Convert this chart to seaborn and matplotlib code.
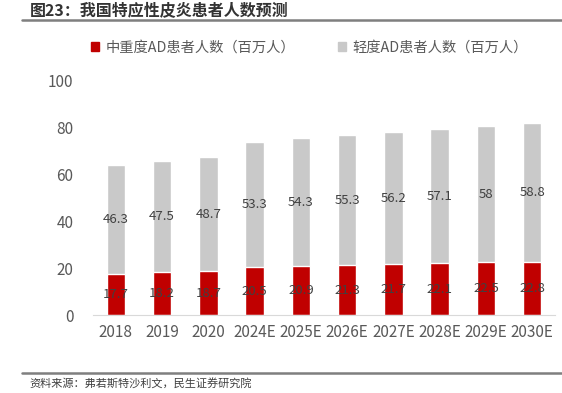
import pandas as pd
import numpy as np
import matplotlib
matplotlib.use("Agg")
import matplotlib.pyplot as plt
import seaborn as sns
from matplotlib.lines import Line2D
from matplotlib.patches import Patch

years = ["2018", "2019", "2020", "2024E", "2025E", "2026E", "2027E", "2028E", "2029E", "2030E"]
severe = [17.7, 18.2, 18.7, 20.5, 20.9, 21.3, 21.7, 22.1, 22.5, 22.8]
mild = [46.3, 47.5, 48.7, 53.3, 54.3, 55.3, 56.2, 57.1, 58, 58.8]
severe_name = "中重度AD患者人数（百万人）"
mild_name = "轻度AD患者人数（百万人）"

sns.set_style("white")
plt.rcParams['font.family'] = ['Noto Sans CJK SC', 'DejaVu Sans']

df = pd.DataFrame({"year": years, "severe": severe, "mild": mild})
df["total"] = df["severe"] + df["mild"]

fig = plt.figure(figsize=(5.62, 3.93), dpi=100)
ax = fig.add_axes([0.165, 0.198, 0.823, 0.598])

sns.barplot(data=df, x="year", y="total", color="#c9c9c9", width=0.4, saturation=1, ax=ax)
sns.barplot(data=df, x="year", y="severe", color="#c00000", width=0.4, saturation=1, ax=ax)

for i, row in df.iterrows():
    ax.text(i, row["severe"] / 2, f"{row['severe']:g}", ha="center", va="center",
            fontsize=9.5, color="#404040")
    ax.text(i, row["severe"] + row["mild"] / 2, f"{row['mild']:g}", ha="center", va="center",
            fontsize=9.5, color="#404040")

ax.set_xlim(-0.5, 9.5)
ax.set_ylim(0, 100)
ax.set_yticks(range(0, 101, 20))
ax.set_xlabel("")
ax.set_ylabel("")
ax.tick_params(axis="both", length=0, labelsize=11, colors="#595959")
ax.tick_params(axis="y", pad=14)
ax.tick_params(axis="x", pad=6)
for s in ["top", "right", "left"]:
    ax.spines[s].set_visible(False)
ax.spines["bottom"].set_color("#d9d9d9")

handles = [Patch(color="#c00000"), Patch(color="#c9c9c9")]
fig.legend(handles, [severe_name, mild_name], loc="center", bbox_to_anchor=(0.55, 0.878),
           ncol=2, frameon=False, fontsize=10.3, handlelength=0.6, handleheight=0.6,
           handletextpad=0.4, columnspacing=3.0, labelcolor="#595959")

fig.text(0.053, 0.972, "图23：我国特应性皮炎患者人数预测", fontsize=11.5, fontweight="bold",
         color="#333333", va="center")
fig.add_artist(Line2D([0.039, 1.0], [0.948, 0.948], color="#7f7f7f", lw=1.8))
fig.add_artist(Line2D([0.039, 1.0], [0.051, 0.051], color="#7f7f7f", lw=1.8))
fig.text(0.053, 0.022, "资料来源：弗若斯特沙利文，民生证券研究院", fontsize=8, color="#404040", va="center")

fig.savefig("out.png", dpi=100)
